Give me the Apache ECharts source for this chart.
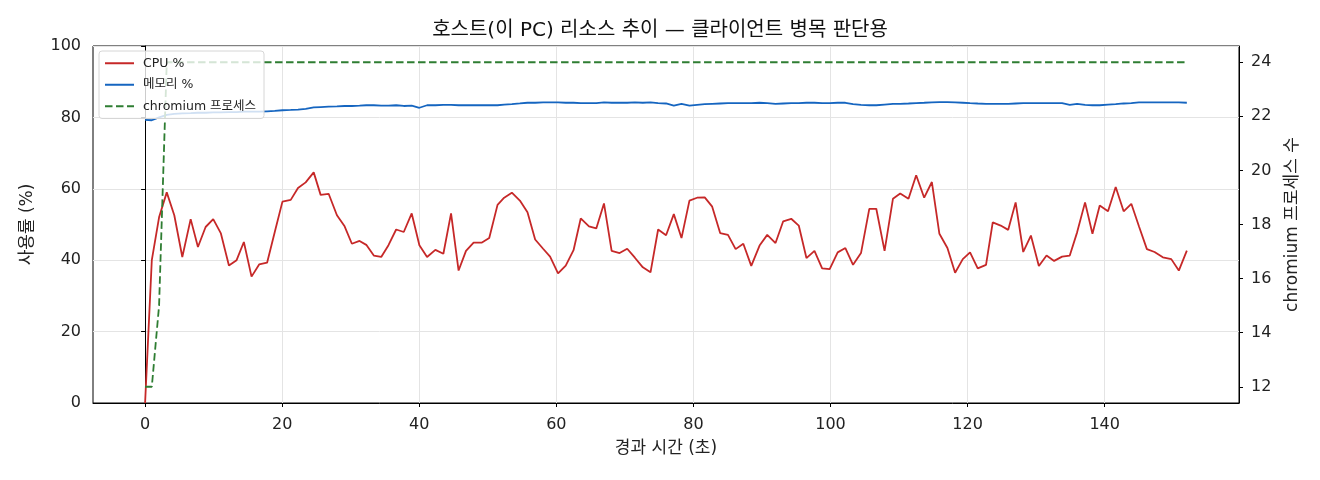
<!DOCTYPE html>
<html>
<head>
<meta charset="utf-8">
<script src="https://cdn.jsdelivr.net/npm/echarts@6/dist/echarts.min.js"></script>
<style>
  html, body { margin: 0; padding: 0; background: #fff; }
  #chart { width: 1320px; height: 480px; }
</style>
</head>
<body>
<div id="chart"></div>
<script>
// elapsed seconds per sample
const elapsed = [
    0, 0.98, 2.04, 3.16, 4.26, 5.43, 6.65, 7.71, 8.83, 9.94,
    11.06, 12.23, 13.35, 14.41, 15.53, 16.64, 17.80, 18.92, 20.04, 21.25,
    22.31, 23.43, 24.60, 25.61, 26.78, 27.99, 29.11, 30.17, 31.29, 32.27,
    33.37, 34.45, 35.51, 36.63, 37.74, 38.90, 40.02, 41.14, 42.35, 43.52,
    44.64, 45.74, 46.82, 47.93, 49.09, 50.21, 51.42, 52.39, 53.51, 54.68,
    55.79, 56.91, 58.07, 59.09, 60.25, 61.37, 62.51, 63.56, 64.76, 65.83,
    66.95, 68.07, 69.23, 70.34, 71.46, 72.62, 73.74, 74.85, 76.01, 77.14,
    78.26, 79.42, 80.53, 81.65, 82.74, 83.90, 85.04, 86.16, 87.28, 88.44,
    89.65, 90.77, 91.98, 93.10, 94.27, 95.37, 96.49, 97.66, 98.78, 99.88,
    101.05, 102.17, 103.29, 104.45, 105.66, 106.68, 107.89, 109.11, 110.17, 111.38,
    112.50, 113.67, 114.79, 115.89, 117.06, 118.18, 119.30, 120.36, 121.48, 122.69,
    123.67, 124.83, 125.93, 127.01, 128.12, 129.24, 130.40, 131.52, 132.63, 133.79,
    134.91, 135.98, 137.14, 138.22, 139.28, 140.49, 141.61, 142.77, 143.89, 145.00,
    146.16, 147.28, 148.49, 149.72, 150.82, 151.99
];

const cpuPct = [
    0, 40, 52, 59, 52.6, 40.9, 51.5, 43.7, 49.3, 51.5,
    47.5, 38.5, 40, 45.1, 35.4, 38.8, 39.3, 47.9, 56.4, 56.9,
    60.2, 61.8, 64.6, 58.3, 58.6, 52.6, 49.5, 44.6, 45.4, 44.3,
    41.3, 40.9, 44.2, 48.6, 47.9, 53.1, 44.2, 40.9, 42.9, 41.8,
    53.1, 37.1, 42.6, 44.9, 44.9, 46.2, 55.5, 57.5, 58.9, 56.7,
    53.4, 45.8, 43.2, 41, 36.3, 38.5, 42.8, 51.7, 49.5, 48.9,
    55.9, 42.6, 42, 43.2, 40.7, 38, 36.6, 48.6, 47, 52.9,
    46.2, 56.7, 57.5, 57.6, 55, 47.6, 47.1, 43.1, 44.6, 38.4,
    44.1, 47.1, 44.8, 50.9, 51.6, 49.7, 40.6, 42.6, 37.7, 37.5,
    42.2, 43.4, 38.7, 42, 54.4, 54.4, 42.6, 57.2, 58.7, 57.2,
    63.8, 57.5, 61.9, 47.4, 43.4, 36.5, 40.3, 42.2, 37.7, 38.7,
    50.6, 49.7, 48.5, 56.2, 42.3, 46.9, 38.4, 41.3, 39.8, 41,
    41.3, 47.8, 56.2, 47.4, 55.3, 53.7, 60.5, 53.7, 55.8, 49.5,
    43.1, 42.3, 40.8, 40.3, 37.1, 42.7
];

const memPct = [
    79.3, 79.2, 80.0, 80.7, 81.0, 81.1, 81.2, 81.3, 81.3, 81.4,
    81.4, 81.5, 81.5, 81.6, 81.6, 81.6, 81.7, 81.8, 82.0, 82.1,
    82.2, 82.4, 82.8, 82.9, 83.0, 83.1, 83.2, 83.2, 83.3, 83.4,
    83.4, 83.3, 83.3, 83.4, 83.2, 83.3, 82.7, 83.4, 83.4, 83.5,
    83.5, 83.4, 83.4, 83.4, 83.4, 83.4, 83.4, 83.6, 83.7, 83.9,
    84.1, 84.1, 84.2, 84.2, 84.2, 84.1, 84.1, 84.0, 84.0, 84.0,
    84.2, 84.1, 84.1, 84.1, 84.2, 84.1, 84.2, 84.0, 83.9, 83.3,
    83.8, 83.3, 83.5, 83.7, 83.8, 83.9, 84.0, 84.0, 84.0, 84.0,
    84.1, 84.0, 83.8, 83.9, 84.0, 84.0, 84.1, 84.1, 84.0, 84.0,
    84.1, 84.1, 83.7, 83.5, 83.4, 83.4, 83.6, 83.8, 83.8, 83.9,
    84.0, 84.1, 84.2, 84.3, 84.3, 84.2, 84.1, 84.0, 83.9, 83.8,
    83.8, 83.8, 83.8, 83.9, 84.0, 84.0, 84.0, 84.0, 84.0, 84.0,
    83.5, 83.8, 83.5, 83.4, 83.4, 83.6, 83.7, 83.9, 84.0, 84.2,
    84.2, 84.2, 84.2, 84.2, 84.2, 84.1
];

const chromiumProcs = [
    12, 12, 15, 24, 24, 24, 24, 24, 24, 24,
    24, 24, 24, 24, 24, 24, 24, 24, 24, 24,
    24, 24, 24, 24, 24, 24, 24, 24, 24, 24,
    24, 24, 24, 24, 24, 24, 24, 24, 24, 24,
    24, 24, 24, 24, 24, 24, 24, 24, 24, 24,
    24, 24, 24, 24, 24, 24, 24, 24, 24, 24,
    24, 24, 24, 24, 24, 24, 24, 24, 24, 24,
    24, 24, 24, 24, 24, 24, 24, 24, 24, 24,
    24, 24, 24, 24, 24, 24, 24, 24, 24, 24,
    24, 24, 24, 24, 24, 24, 24, 24, 24, 24,
    24, 24, 24, 24, 24, 24, 24, 24, 24, 24,
    24, 24, 24, 24, 24, 24, 24, 24, 24, 24,
    24, 24, 24, 24, 24, 24, 24, 24, 24, 24,
    24, 24, 24, 24, 24, 24
];

const xTicks = [0, 20, 40, 60, 80, 100, 120, 140];
const procTicks = [12, 14, 16, 18, 20, 22, 24];

const FONT = '"DejaVu Sans", "Noto Sans CJK KR", sans-serif';

const chartDom = document.getElementById('chart');
const myChart = echarts.init(chartDom);

const pairs = (vals) => elapsed.map((t, i) => [t, vals[i]]);

const tickLabel = { margin: 12, fontSize: 16, color: '#222', fontFamily: FONT };
const axisName = { fontFamily: FONT, fontSize: 17, color: '#222' };

const option = {
    animation: false,
    textStyle: { fontFamily: FONT },
    title: {
        text: '호스트(이 PC) 리소스 추이 — 클라이언트 병목 판단용',
        left: 'center',
        top: 16,
        textStyle: { fontFamily: FONT, fontSize: 20, fontWeight: 'normal', color: '#111' }
    },
    legend: {
        orient: 'vertical',
        left: 99,
        top: 51,
        padding: [6, 8, 6, 5],
        itemGap: 9,
        itemWidth: 29,
        itemHeight: 14,
        backgroundColor: 'rgba(255,255,255,0.8)',
        borderColor: '#d6d6d6',
        borderWidth: 1,
        borderRadius: 3,
        itemStyle: { opacity: 0 },
        textStyle: { fontFamily: FONT, fontSize: 12.5, color: '#222', padding: [0, 0, 0, 4] },
        data: ['CPU %', '메모리 %', 'chromium 프로세스']
    },
    grid: {
        left: 93,
        right: 81,
        top: 46,
        bottom: 77,
        show: true,
        borderColor: '#000',
        borderWidth: 1
    },
    xAxis: {
        type: 'value',
        min: -7.6,
        max: 159.6,
        name: '경과 시간 (초)',
        nameLocation: 'middle',
        nameGap: 37,
        nameTextStyle: axisName,
        axisLine: { show: true, lineStyle: { color: '#000' } },
        axisTick: { show: true, inside: false, length: 4, lineStyle: { color: '#000' }, customValues: xTicks },
        axisLabel: Object.assign({}, tickLabel, { customValues: xTicks, margin: 14 }),
        splitLine: { show: true, lineStyle: { color: '#e4e4e4', width: 1 } }
    },
    yAxis: [
        {
            type: 'value',
            min: 0,
            max: 100,
            interval: 20,
            name: '사용률 (%)',
            nameLocation: 'middle',
            nameGap: 57,
            nameTextStyle: axisName,
            axisLine: { show: true, lineStyle: { color: '#000' } },
            axisTick: { show: true, inside: false, length: 4, lineStyle: { color: '#000' } },
            axisLabel: tickLabel,
            splitLine: { show: true, lineStyle: { color: '#e4e4e4', width: 1 } }
        },
        {
            type: 'value',
            position: 'right',
            min: 11.4,
            max: 24.6,
            name: 'chromium 프로세스 수',
            nameLocation: 'middle',
            nameGap: 45,
            nameTextStyle: axisName,
            axisLine: { show: true, lineStyle: { color: '#000' } },
            axisTick: { show: true, inside: false, length: 4, lineStyle: { color: '#000' }, customValues: procTicks },
            axisLabel: Object.assign({}, tickLabel, { customValues: procTicks }),
            splitLine: { show: false }
        }
    ],
    series: [
        {
            name: 'CPU %',
            type: 'line',
            yAxisIndex: 0,
            symbol: 'none',
            data: pairs(cpuPct),
            lineStyle: { color: '#c62828', width: 1.8 },
            itemStyle: { color: '#c62828' }
        },
        {
            name: '메모리 %',
            type: 'line',
            yAxisIndex: 0,
            symbol: 'none',
            data: pairs(memPct),
            lineStyle: { color: '#1565c0', width: 1.8 },
            itemStyle: { color: '#1565c0' }
        },
        {
            name: 'chromium 프로세스',
            type: 'line',
            yAxisIndex: 1,
            symbol: 'none',
            data: pairs(chromiumProcs),
            lineStyle: { color: '#2e7d32', width: 1.8, type: [7.5, 3.5] },
            itemStyle: { color: '#2e7d32' }
        }
    ]
};

myChart.setOption(option);
</script>
</body>
</html>
